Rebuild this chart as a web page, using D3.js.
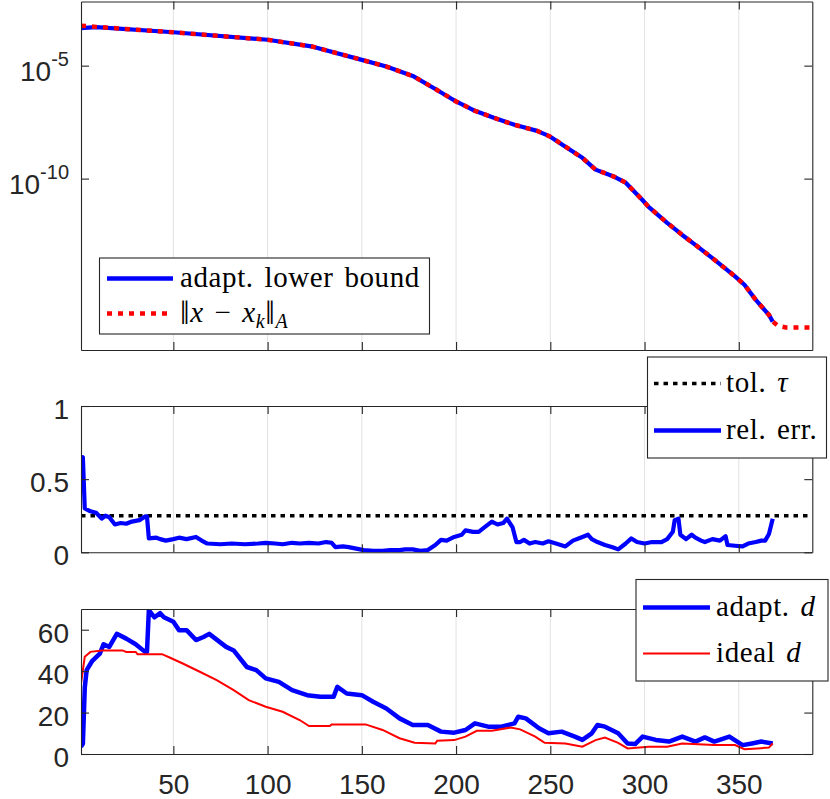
<!DOCTYPE html>
<html>
<head>
<meta charset="utf-8">
<script src="https://cdn.jsdelivr.net/npm/d3@7"></script>
<style>
  body { margin: 0; background: #fff; }
</style>
</head>
<body>
<svg id="chart" width="830" height="799"></svg>
<script>
// layout constants
const AX_LEFT = 81;
const AX_RIGHT = 812.3;
const AXIS_COLOR = "#262626";
const GRID_COLOR = "#e2e2e2";
const TICK_FONT = "'Liberation Sans', Arial, Helvetica, sans-serif";
const LEGEND_FONT = "'Liberation Serif', 'Times New Roman', serif";

// shared x axis (iteration k)
const X_LIM = [1, 389];
const X_TICKS = [50, 100, 150, 200, 250, 300, 350];

// panel 1 : energy norm of the error and its adaptive lower bound (log scale)
const ERR_LIM = [2.6e-18, 6.9e-3];
const ERR_TICKS = [1e-10, 1e-5];
const errA = [[1,5.9e-4],[9,5.2e-4],[50,3.0e-4],[100,1.4e-4],[124,6.9e-5],[150,1.8e-5],[163,9.1e-6],
  [177,3.5e-6],[189,9.3e-7],[200,2.6e-7],[210,1.0e-7],[220,4.9e-8],[231,2.4e-8],[243,1.3e-8],[250,7.2e-9],
  [258,2.6e-9],[267,8.3e-10],[274,2.5e-10],[284,1.2e-10],[290,6.6e-11],[299,1.1e-11],[302,5.8e-12],
  [312,1.1e-12],[320,3.2e-13],[328,1.0e-13],[337,2.6e-14],[348,4.7e-15],[353,2.0e-15],[359,4.3e-16],
  [366,9.3e-17],[368,4.7e-17],[371,3.0e-17],[375,2.6e-17],[389,2.6e-17]];
const lowerBound = [[1,4.6e-4],[9,5.1e-4],[50,3.0e-4],[100,1.4e-4],[124,6.9e-5],[150,1.8e-5],[163,9.1e-6],
  [177,3.5e-6],[189,9.3e-7],[200,2.6e-7],[210,1.0e-7],[220,4.9e-8],[231,2.4e-8],[243,1.3e-8],[250,7.2e-9],
  [258,2.6e-9],[267,8.3e-10],[274,2.5e-10],[284,1.2e-10],[290,6.6e-11],[299,1.1e-11],[302,5.8e-12],
  [312,1.1e-12],[320,3.2e-13],[328,1.0e-13],[337,2.6e-14],[348,4.7e-15],[353,2.0e-15],[359,4.3e-16],
  [366,9.3e-17],[368,4.7e-17]];

// panel 2 : relative error vs tolerance
const REL_LIM = [0, 1];
const REL_TICKS = [0, 0.5, 1];
const tolerance = 0.25;
const relErr = [[1,0.61],[2,0.65],[3,0.30],[6,0.28],[9,0.27],[12,0.23],[14,0.25],[16,0.24],[19,0.19],
  [22,0.2],[25,0.195],[28,0.21],[32,0.22],[35,0.245],[36,0.245],[37,0.095],[41,0.10],[43,0.09],[46,0.08],
  [50,0.09],[53,0.10],[57,0.09],[62,0.105],[65,0.08],[68,0.06],[75,0.055],[81,0.06],[88,0.055],[95,0.06],
  [99,0.065],[104,0.06],[108,0.055],[113,0.065],[117,0.06],[122,0.065],[127,0.06],[131,0.07],[134,0.065],
  [136,0.035],[140,0.04],[143,0.035],[147,0.025],[151,0.015],[156,0.01],[161,0.01],[165,0.015],[170,0.015],
  [173,0.02],[177,0.02],[181,0.01],[185,0.015],[189,0.05],[192,0.085],[195,0.08],[199,0.105],[203,0.12],
  [205,0.15],[209,0.14],[212,0.14],[215,0.17],[219,0.21],[222,0.19],[225,0.2],[227,0.23],[230,0.17],
  [232,0.07],[234,0.07],[236,0.085],[239,0.06],[242,0.07],[246,0.06],[249,0.075],[253,0.06],[258,0.04],
  [262,0.08],[266,0.1],[270,0.12],[272,0.09],[275,0.07],[279,0.05],[283,0.035],[286,0.02],[290,0.06],
  [293,0.095],[296,0.07],[300,0.06],[304,0.07],[309,0.07],[312,0.09],[315,0.14],[316,0.22],[318,0.23],
  [319,0.12],[322,0.09],[325,0.12],[327,0.10],[330,0.08],[332,0.07],[336,0.09],[340,0.08],[343,0.11],
  [344,0.05],[348,0.045],[352,0.04],[355,0.06],[359,0.07],[362,0.08],[364,0.08],[366,0.125],[368,0.23]];

// panel 3 : delay d
const D_LIM = [0, 70];
const D_TICKS = [0, 20, 40, 60];
const adaptD = [[1,3.5],[2,5],[3,32],[4,40.5],[7,45],[11,48.5],[13,53],[16,51.7],[20,58],[25,55.7],
  [30,53],[35,49.3],[36,49.3],[37,69.4],[40,66],[43,68],[45,66],[50,63.8],[53,59.8],[57,59.8],[62,55],
  [66,56.5],[69,58],[78,51.7],[82,50],[89,42],[94,40.5],[99,36.5],[106,34.8],[113,30.8],[121,28.4],
  [128,27.6],[135,27.6],[137,32.4],[142,29.2],[150,28.4],[156,25.2],[163,22],[170,17.2],[177,14],
  [185,14],[192,10.8],[199,10.3],[205,11.6],[210,14.8],[217,13.2],[224,13.2],[231,14.8],[233,18],
  [237,17.2],[244,12.4],[249,10],[256,10.8],[263,8.4],[267,6.8],[272,10],[275,14],[279,13.2],[286,10],
  [291,5.1],[295,4.8],[299,8.4],[306,6.8],[313,6],[320,8.4],[327,6],[332,8],[337,6],[345,8.4],[352,4.3],
  [357,5.1],[362,6],[368,5.1]];
const idealD = [[1,34],[3,47],[6,49.3],[12,50],[23,50],[25,49.3],[30,49.3],[31,48.2],[44,48.2],[48,46.6],
  [55,43.7],[64,39.7],[73,35.7],[82,30.8],[90,26],[99,22.8],[108,20.4],[117,16.4],[122,13.5],[133,13.5],
  [134,14.3],[152,14.3],[161,11.6],[170,7.6],[178,5.4],[189,5.1],[190,6.4],[199,6.7],[205,8.4],[211,11.2],
  [219,11.2],[229,12.8],[234,11.9],[242,8.4],[247,5.4],[258,5.1],[267,3.5],[274,6.7],[279,7.9],[286,5.4],
  [291,2.7],[302,3.5],[312,3.5],[320,5.1],[337,4.3],[348,4.3],[353,2.3],[360,2.7],[366,3.1],[368,5.1]];

const svg = d3.select("#chart");
const xScale = d3.scaleLinear().domain(X_LIM).range([AX_LEFT, AX_RIGHT]);

/**
 * Draw grid, clip and return a group for the data lines
 */
function makePanel (id, top, bottom) {
  svg.append("clipPath").attr("id", "clip-" + id)
    .append("rect")
    .attr("x", AX_LEFT).attr("y", top)
    .attr("width", AX_RIGHT - AX_LEFT).attr("height", bottom - top);

  svg.append("g").attr("class", "grid")
    .selectAll("line")
    .data(X_TICKS)
    .join("line")
    .attr("x1", d => xScale(d)).attr("x2", d => xScale(d))
    .attr("y1", top).attr("y2", bottom)
    .attr("stroke", GRID_COLOR)
    .attr("stroke-width", 1);

  return svg.append("g").attr("clip-path", `url(#clip-${id})`);
}

/**
 * Draw the boxed axes with inward ticks
 */
function drawAxes (yScale, yTicks, top, bottom, yFormat, showX, logLabels) {
  const styleAxis = g => g
    .attr("color", AXIS_COLOR)
    .attr("font-family", TICK_FONT)
    .attr("font-size", 28)
    .call(g => g.selectAll("path, line").attr("stroke-width", 1.1));

  svg.append("g")
    .attr("transform", `translate(0,${bottom})`)
    .call(d3.axisBottom(xScale).tickValues(X_TICKS).tickSize(-8).tickSizeOuter(0)
      .tickPadding(20).tickFormat(showX ? d3.format("d") : ""))
    .call(styleAxis);

  svg.append("g")
    .attr("transform", `translate(0,${top})`)
    .call(d3.axisTop(xScale).tickValues(X_TICKS).tickSize(-8).tickSizeOuter(0).tickFormat(""))
    .call(styleAxis);

  let left = svg.append("g")
    .attr("transform", `translate(${AX_LEFT},0)`)
    .call(d3.axisLeft(yScale).tickValues(yTicks).tickSize(-8).tickSizeOuter(0)
      .tickPadding(12).tickFormat(yFormat))
    .call(styleAxis);

  left.selectAll("text").attr("dy", "0.45em");

  if (logLabels) {
    left.selectAll("text")
      .attr("dy", 15)
      .each(function (d) {
        const t = d3.select(this);
        const exp = Math.round(Math.log10(d));
        t.text("");
        t.append("tspan").text("10");
        t.append("tspan").attr("font-size", 20).attr("dy", -15).text(exp);
      });
  }

  svg.append("g")
    .attr("transform", `translate(${AX_RIGHT},0)`)
    .call(d3.axisRight(yScale).tickValues(yTicks).tickSize(-8).tickSizeOuter(0).tickFormat(""))
    .call(styleAxis);
}

/**
 * Boxed legend, entries drawn by a callback that fills the text element
 */
function drawLegend (x0, y0, w, h, sampleX, textX, entries) {
  const g = svg.append("g");
  g.append("rect")
    .attr("x", x0).attr("y", y0).attr("width", w).attr("height", h)
    .attr("fill", "#fff").attr("stroke", AXIS_COLOR).attr("stroke-width", 1.1);

  entries.forEach(e => {
    g.append("line")
      .attr("x1", sampleX[0]).attr("x2", sampleX[1])
      .attr("y1", e.y).attr("y2", e.y)
      .attr("stroke", e.color)
      .attr("stroke-width", e.width)
      .attr("stroke-dasharray", e.dash || null);
    const t = g.append("text")
      .attr("x", textX).attr("y", e.y + 8)
      .attr("font-family", LEGEND_FONT)
      .attr("font-size", 29)
      .attr("letter-spacing", 0.6)
      .attr("word-spacing", 3)
      .attr("fill", "#000");
    e.label(t);
  });
}

const line = (y) => d3.line().x(d => xScale(d[0])).y(d => y(d[1]));

// ---------- panel 1 ----------
const P1 = { top: 1.5, bottom: 350 };
const yErr = d3.scaleLog().domain(ERR_LIM).range([P1.bottom, P1.top]);
let g1 = makePanel("p1", P1.top, P1.bottom);

g1.append("path").datum(lowerBound)
  .attr("d", line(yErr))
  .attr("fill", "none").attr("stroke", "#0000ff").attr("stroke-width", 4.2)
  .attr("stroke-linejoin", "round");

g1.append("path").datum(errA)
  .attr("d", line(yErr))
  .attr("fill", "none").attr("stroke", "#ff0000").attr("stroke-width", 4.5)
  .attr("stroke-dasharray", "5,6");

drawAxes(yErr, ERR_TICKS, P1.top, P1.bottom, d => d, false, true);

// ---------- panel 2 ----------
const P2 = { top: 406, bottom: 552.3 };
const yRel = d3.scaleLinear().domain(REL_LIM).range([P2.bottom, P2.top]);
let g2 = makePanel("p2", P2.top, P2.bottom);

g2.append("path").datum([[X_LIM[0], tolerance], [X_LIM[1], tolerance]])
  .attr("d", line(yRel))
  .attr("fill", "none").attr("stroke", "#000").attr("stroke-width", 3.5)
  .attr("stroke-dasharray", "4.5,5");

g2.append("path").datum(relErr)
  .attr("d", line(yRel))
  .attr("fill", "none").attr("stroke", "#0000ff").attr("stroke-width", 4.2)
  .attr("stroke-linejoin", "round");

drawAxes(yRel, REL_TICKS, P2.top, P2.bottom, d3.format("~g"), false, false);

// ---------- panel 3 ----------
const P3 = { top: 609, bottom: 754 };
const yD = d3.scaleLinear().domain(D_LIM).range([P3.bottom, P3.top]);
let g3 = makePanel("p3", P3.top, P3.bottom);

g3.append("path").datum(adaptD)
  .attr("d", line(yD))
  .attr("fill", "none").attr("stroke", "#0000ff").attr("stroke-width", 4.5)
  .attr("stroke-linejoin", "round");

g3.append("path").datum(idealD)
  .attr("d", line(yD))
  .attr("fill", "none").attr("stroke", "#ff0000").attr("stroke-width", 2);

drawAxes(yD, D_TICKS, P3.top, P3.bottom, d3.format("d"), true, false);

// ---------- legends ----------
drawLegend(99.5, 258, 330, 76, [107, 173], 180, [
  { y: 278.5, color: "#0000ff", width: 4.5, label: t => t.text("adapt. lower bound") },
  { y: 313.5, color: "#ff0000", width: 4.5, dash: "5,6", label: t => {
      t.append("tspan").attr("font-size", 34).attr("dy", 2).text("\u2016");
      t.append("tspan").attr("font-style", "italic").attr("dy", -2).text("x");
      t.append("tspan").text(" \u2212 ");
      t.append("tspan").attr("font-style", "italic").text("x");
      t.append("tspan").attr("font-style", "italic").attr("font-size", 20).attr("dy", 6).text("k");
      t.append("tspan").attr("font-size", 34).attr("dy", -4).text("\u2016");
      t.append("tspan").attr("font-style", "italic").attr("font-size", 20).attr("dy", 4).text("A");
    } }
]);

drawLegend(647.5, 357, 179, 101, [654, 721], 726, [
  { y: 383.5, color: "#000", width: 3.5, dash: "4.5,5", label: t => {
      t.append("tspan").text("tol.  ");
      t.append("tspan").attr("font-style", "italic").text("\u03c4");
    } },
  { y: 430.5, color: "#0000ff", width: 4.5, label: t => t.text("rel.  err.") }
]);

drawLegend(636, 579.5, 192, 101.5, [643, 710], 716, [
  { y: 607.5, color: "#0000ff", width: 4.5, label: t => {
      t.append("tspan").text("adapt. ");
      t.append("tspan").attr("font-style", "italic").text("d");
    } },
  { y: 653.5, color: "#ff0000", width: 2, label: t => {
      t.append("tspan").text("ideal ");
      t.append("tspan").attr("font-style", "italic").text("d");
    } }
]);
</script>
</body>
</html>
